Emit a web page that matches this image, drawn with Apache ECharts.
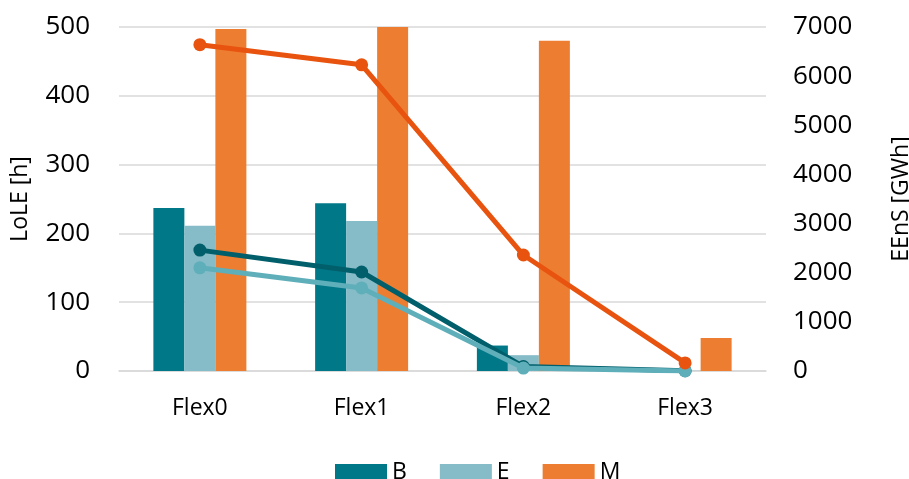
<!DOCTYPE html>
<html>
<head>
<meta charset="utf-8">
<script src="https://cdn.jsdelivr.net/npm/echarts@6/dist/echarts.min.js"></script>
<style>html,body{margin:0;padding:0;background:#fff}#c{width:909px;height:479px}</style>
</head>
<body>
<div id="c"></div>
<script>
const categories = ['Flex0', 'Flex1', 'Flex2', 'Flex3'];
// LoLE [h] bars
const loleB = [237, 244, 37, 0.5];
const loleE = [211, 218, 23, 0.3];
const loleM = [497, 500, 480, 48];
// EEnS [GWh] lines
const eensB = [2460, 2015, 90, 5];
const eensE = [2100, 1690, 60, 0];
const eensM = [6640, 6230, 2360, 165];
const leftTicks = {min: 0, max: 500, interval: 100};
const rightTicks = {min: 0, max: 7000, interval: 1000};

const font = '"Open Sans", "Noto Sans", sans-serif';
const chart = echarts.init(document.getElementById('c'), null, {renderer: 'canvas'});
chart.setOption({
  animation: false,
  textStyle: {fontFamily: font},
  grid: {left: 119, right: 143, top: 27, bottom: 108, containLabel: false, outerBoundsMode: 'none'},
  legend: {
    data: ['B', 'E', 'M'],
    top: 456, left: 330,
    itemWidth: 52, itemHeight: 17, itemGap: 33,
    textStyle: {fontSize: 23, color: '#000', fontFamily: font},
    icon: 'rect'
  },
  xAxis: {
    type: 'category', data: categories,
    axisLine: {lineStyle: {color: '#D9D9D9', width: 1.5}},
    axisTick: {show: false},
    axisLabel: {fontSize: 23, color: '#000', margin: 26, fontFamily: font}
  },
  yAxis: [{
    type: 'value', min: leftTicks.min, max: leftTicks.max, interval: leftTicks.interval,
    name: 'LoLE [h]', nameLocation: 'middle', nameGap: 87, nameRotate: 90,
    nameTextStyle: {fontSize: 23, color: '#000', fontFamily: font},
    axisLabel: {fontSize: 26, color: '#000', margin: 29, fontFamily: font},
    splitLine: {lineStyle: {color: '#D9D9D9', width: 1.5}},
    axisLine: {show: false}, axisTick: {show: false}
  }, {
    type: 'value', min: rightTicks.min, max: rightTicks.max, interval: rightTicks.interval,
    name: 'EEnS [GWh]', nameLocation: 'middle', nameGap: 124, nameRotate: 90,
    nameTextStyle: {fontSize: 23, color: '#000', fontFamily: font},
    axisLabel: {fontSize: 26, color: '#000', margin: 27, fontFamily: font, formatter: v => String(v)},
    splitLine: {show: false},
    axisLine: {show: false}, axisTick: {show: false}
  }],
  series: [
    {name: 'B', type: 'bar', data: loleB, barWidth: 31, barGap: '0%', itemStyle: {color: '#007887'}},
    {name: 'E', type: 'bar', data: loleE, barWidth: 31, barGap: '0%', itemStyle: {color: '#85BCC7'}},
    {name: 'M', type: 'bar', data: loleM, barWidth: 31, barGap: '0%', itemStyle: {color: '#ED7D31'}},
    {name: 'B EEnS', type: 'line', yAxisIndex: 1, data: eensB, symbol: 'circle', symbolSize: 13,
      lineStyle: {color: '#005F6B', width: 5}, itemStyle: {color: '#005F6B'}, z: 3},
    {name: 'E EEnS', type: 'line', yAxisIndex: 1, data: eensE, symbol: 'circle', symbolSize: 13,
      lineStyle: {color: '#5FAFBA', width: 5}, itemStyle: {color: '#5FAFBA'}, z: 4},
    {name: 'M EEnS', type: 'line', yAxisIndex: 1, data: eensM, symbol: 'circle', symbolSize: 13,
      lineStyle: {color: '#E8540F', width: 5}, itemStyle: {color: '#E8540F'}, z: 5}
  ]
});
</script>
</body>
</html>
